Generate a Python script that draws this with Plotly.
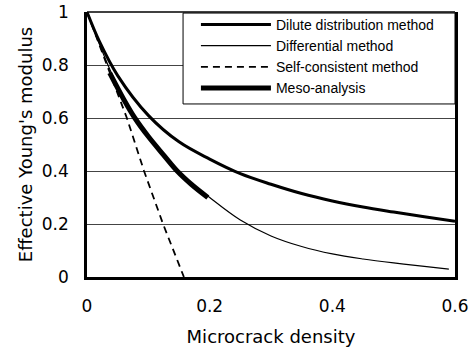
import plotly.graph_objects as go

# Microcrack density values and effective Young's modulus
dilute_x = [0, 0.02, 0.05, 0.1, 0.15, 0.2, 0.25, 0.3, 0.35, 0.4, 0.45, 0.5, 0.55, 0.6]
dilute_y = [1, 0.89, 0.76, 0.61, 0.51, 0.445, 0.39, 0.35, 0.315, 0.287, 0.264, 0.245, 0.227, 0.21]

diff_x = [0, 0.02, 0.05, 0.1, 0.15, 0.2, 0.25, 0.3, 0.35, 0.4, 0.45, 0.5, 0.55, 0.59]
diff_y = [1, 0.88, 0.72, 0.53, 0.395, 0.30, 0.215, 0.155, 0.115, 0.087, 0.068, 0.053, 0.04, 0.03]

self_x = [0, 0.065, 0.093, 0.124, 0.158]
self_y = [1, 0.6, 0.4, 0.2, 0]

meso_x = [0.037, 0.06, 0.078, 0.1, 0.125, 0.147, 0.17, 0.197]
meso_y = [0.77, 0.67, 0.6, 0.53, 0.46, 0.4, 0.35, 0.30]

x_ticks = [0, 0.2, 0.4, 0.6]
y_ticks = [0, 0.2, 0.4, 0.6, 0.8, 1]

FONT = "DejaVu Sans, sans-serif"
LEG_FONT = "Liberation Sans, Arial, sans-serif"

fig = go.Figure()
fig.add_trace(go.Scatter(x=dilute_x, y=dilute_y, mode="lines", name="Dilute distribution method",
                         line=dict(color="black", width=3, shape="spline")))
fig.add_trace(go.Scatter(x=diff_x, y=diff_y, mode="lines", name="Differential method",
                         line=dict(color="black", width=1.2, shape="spline")))
fig.add_trace(go.Scatter(x=self_x, y=self_y, mode="lines", name="Self-consistent method",
                         line=dict(color="black", width=1.8, dash="7px,5px")))
fig.add_trace(go.Scatter(x=meso_x, y=meso_y, mode="lines", name="Meso-analysis",
                         line=dict(color="black", width=5, shape="spline")))

fig.update_layout(
    width=473, height=347,
    margin=dict(l=87, r=18, t=12, b=70, autoexpand=False),
    paper_bgcolor="white", plot_bgcolor="white",
    font=dict(family=FONT, size=17, color="black"),
    showlegend=True,
    legend=dict(x=0.296, y=1.012, xanchor="left", yanchor="top",
                bgcolor="rgba(0,0,0,0)", borderwidth=0,
                font=dict(size=14, family=LEG_FONT), itemwidth=70,
                tracegroupgap=0),
    xaxis=dict(range=[0, 0.6], tickvals=x_ticks, ticktext=[f"{v:g}" for v in x_ticks],
               showgrid=False, zeroline=False, showline=True, linecolor="black", linewidth=2.5,
               mirror=False, ticks="", ticklabelstandoff=12, automargin=False,
               title=dict(text="Microcrack density", font=dict(size=18), standoff=18)),
    yaxis=dict(range=[0, 1], tickvals=y_ticks, ticktext=[f"{v:g}" for v in y_ticks],
               showgrid=True, gridcolor="#444", gridwidth=1, zeroline=False,
               showline=True, linecolor="black", linewidth=2.5, mirror=True,
               ticks="", ticklabelstandoff=12, automargin=False,
               title=dict(text="Effective Young's modulus", font=dict(size=18), standoff=5)),
)
# thin top border of the plot frame
fig.add_shape(type="line", xref="paper", yref="paper", x0=0, x1=1, y0=1, y1=1,
              line=dict(color="black", width=1.5))
# legend frame (styling only)
fig.add_shape(type="rect", xref="paper", yref="paper", x0=0.261, x1=1, y0=0.653, y1=0.996,
              fillcolor="white", line=dict(color="black", width=1), layer="above")

fig.write_html("out.html")
